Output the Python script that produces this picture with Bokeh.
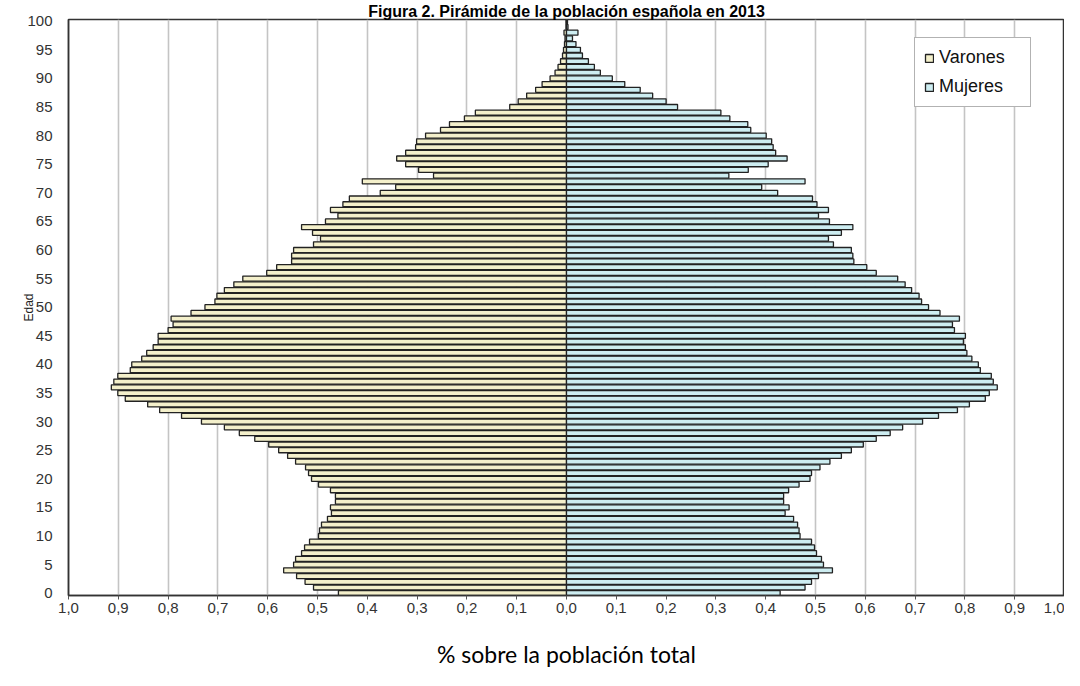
import numpy as np
from bokeh.plotting import figure
from bokeh.models import Range1d, FixedTicker, Legend, LegendItem, ColumnDataSource
from bokeh.embed import file_html
from bokeh.resources import INLINE

title_text = "Figura 2. Pirámide de la población española en 2013"
x_label = "% sobre la población total"
y_label = "Edad"
series_names = ["Varones", "Mujeres"]

edades = list(range(0, 101))

varones = [
    0.458, 0.508, 0.525, 0.542, 0.568, 0.548, 0.544, 0.532, 0.526, 0.516,
    0.498, 0.496, 0.492, 0.480, 0.472, 0.474, 0.464, 0.464, 0.474, 0.498,
    0.512, 0.518, 0.524, 0.544, 0.560, 0.578, 0.598, 0.626, 0.657, 0.687,
    0.733, 0.773, 0.817, 0.841, 0.886, 0.901, 0.914, 0.909, 0.901, 0.876,
    0.873, 0.853, 0.843, 0.830, 0.820, 0.820, 0.800, 0.790, 0.794, 0.754,
    0.726, 0.706, 0.702, 0.687, 0.668, 0.650, 0.602, 0.582, 0.552, 0.552,
    0.548, 0.508, 0.494, 0.510, 0.532, 0.484, 0.459, 0.474, 0.449, 0.436,
    0.374, 0.343, 0.410, 0.267, 0.297, 0.323, 0.341, 0.323, 0.303, 0.301,
    0.283, 0.253, 0.235, 0.205, 0.183, 0.114, 0.097, 0.080, 0.062, 0.049,
    0.033, 0.023, 0.017, 0.012, 0.008, 0.006, 0.004, 0.003, 0.005, 0.001,
    0.001,
]

mujeres = [
    0.429, 0.479, 0.492, 0.506, 0.534, 0.516, 0.512, 0.502, 0.498, 0.492,
    0.469, 0.467, 0.464, 0.456, 0.439, 0.447, 0.436, 0.436, 0.446, 0.467,
    0.489, 0.492, 0.509, 0.529, 0.552, 0.572, 0.596, 0.622, 0.650, 0.675,
    0.715, 0.747, 0.785, 0.809, 0.841, 0.849, 0.865, 0.857, 0.853, 0.831,
    0.827, 0.814, 0.804, 0.801, 0.797, 0.801, 0.779, 0.775, 0.789, 0.750,
    0.727, 0.713, 0.708, 0.693, 0.680, 0.665, 0.622, 0.603, 0.577, 0.575,
    0.572, 0.536, 0.526, 0.552, 0.575, 0.528, 0.506, 0.526, 0.503, 0.494,
    0.424, 0.392, 0.479, 0.326, 0.365, 0.405, 0.443, 0.420, 0.415, 0.412,
    0.401, 0.370, 0.364, 0.328, 0.310, 0.223, 0.200, 0.173, 0.148, 0.117,
    0.092, 0.068, 0.056, 0.044, 0.032, 0.028, 0.019, 0.012, 0.023, 0.003,
    0.002,
]

x_ticks = [-1.0, -0.9, -0.8, -0.7, -0.6, -0.5, -0.4, -0.3, -0.2, -0.1, 0.0,
           0.1, 0.2, 0.3, 0.4, 0.5, 0.6, 0.7, 0.8, 0.9, 1.0]
x_tick_labels = ["1,0", "0,9", "0,8", "0,7", "0,6", "0,5", "0,4", "0,3", "0,2", "0,1", "0,0",
                 "0,1", "0,2", "0,3", "0,4", "0,5", "0,6", "0,7", "0,8", "0,9", "1,0"]
y_ticks = [0, 5, 10, 15, 20, 25, 30, 35, 40, 45, 50, 55, 60, 65, 70, 75, 80, 85, 90, 95, 100]

color_varones = "#F4F0CB"
color_mujeres = "#CDEDF1"
outline = "#222222"

src = ColumnDataSource(dict(
    edad=edades,
    left_v=[-v for v in varones],
    zero=[0.0] * len(edades),
    right_m=mujeres,
))

p = figure(width=1064, height=670, output_backend="svg", toolbar_location=None,
           x_range=Range1d(-1.0, 1.0), y_range=Range1d(-0.4, 100.3),
           min_border_left=68, min_border_right=0, min_border_bottom=74,
           min_border_top=0)

p.title.text = title_text
p.title.align = "center"
p.title.text_font = "Liberation Sans"
p.title.text_font_size = "16px"
p.title.text_font_style = "bold"
p.title.text_color = "#000000"
p.title.standoff = 0

rv = p.hbar(y="edad", left="left_v", right="zero", height=0.88, source=src,
            fill_color=color_varones, line_color=outline, line_width=1.3)
rm = p.hbar(y="edad", left="zero", right="right_m", height=0.88, source=src,
            fill_color=color_mujeres, line_color=outline, line_width=1.3)

# axes
p.xaxis.ticker = FixedTicker(ticks=x_ticks)
p.xaxis.major_label_overrides = {t: l for t, l in zip(x_ticks, x_tick_labels)}
p.yaxis.ticker = FixedTicker(ticks=y_ticks)
for ax in (p.xaxis, p.yaxis):
    ax.axis_line_color = "#333333"
    ax.axis_line_width = 1.5
    ax.major_label_text_font = "Liberation Sans"
    ax.major_label_text_font_size = "15px"
    ax.major_label_text_color = "#333333"
    ax.minor_tick_line_color = None
p.xaxis.major_tick_line_color = "#555555"
p.xaxis.major_tick_out = 4
p.xaxis.major_tick_in = 0
p.xaxis.major_label_standoff = 3
p.yaxis.major_tick_line_color = None
p.yaxis.major_label_standoff = 10

p.xaxis.axis_label = x_label
p.xaxis.axis_label_text_font = "Lato"
p.xaxis.axis_label_text_font_size = "23px"
p.xaxis.axis_label_text_font_style = "normal"
p.xaxis.axis_label_text_color = "#000000"
p.xaxis.axis_label_standoff = 24

p.yaxis.axis_label = y_label
p.yaxis.axis_label_text_font = "Liberation Sans"
p.yaxis.axis_label_text_font_size = "12px"
p.yaxis.axis_label_text_font_style = "normal"
p.yaxis.axis_label_text_color = "#222222"
p.yaxis.axis_label_standoff = -12

# grid
p.xgrid.ticker = FixedTicker(ticks=x_ticks)
p.xgrid.grid_line_color = "#c4c4c4"
p.xgrid.grid_line_width = 1.6
p.ygrid.grid_line_color = None

p.outline_line_color = "#333333"
p.outline_line_width = 1.5
p.background_fill_color = "white"
p.border_fill_color = "white"

legend = Legend(items=[LegendItem(label=series_names[0], renderers=[rv]),
                       LegendItem(label=series_names[1], renderers=[rm])],
                location=(846, 488))
legend.label_text_font = "Liberation Sans"
legend.label_text_font_size = "18px"
legend.label_text_color = "#111111"
legend.glyph_width = 10
legend.glyph_height = 10
legend.label_standoff = 5
legend.label_width = 82
legend.spacing = 8
legend.padding = 9
legend.label_height = 20
legend.border_line_color = "#666666"
legend.border_line_width = 1
legend.background_fill_color = "white"
legend.background_fill_alpha = 1.0
legend.margin = 0
p.add_layout(legend)

open("out.html", "w").write(file_html(p, INLINE))
